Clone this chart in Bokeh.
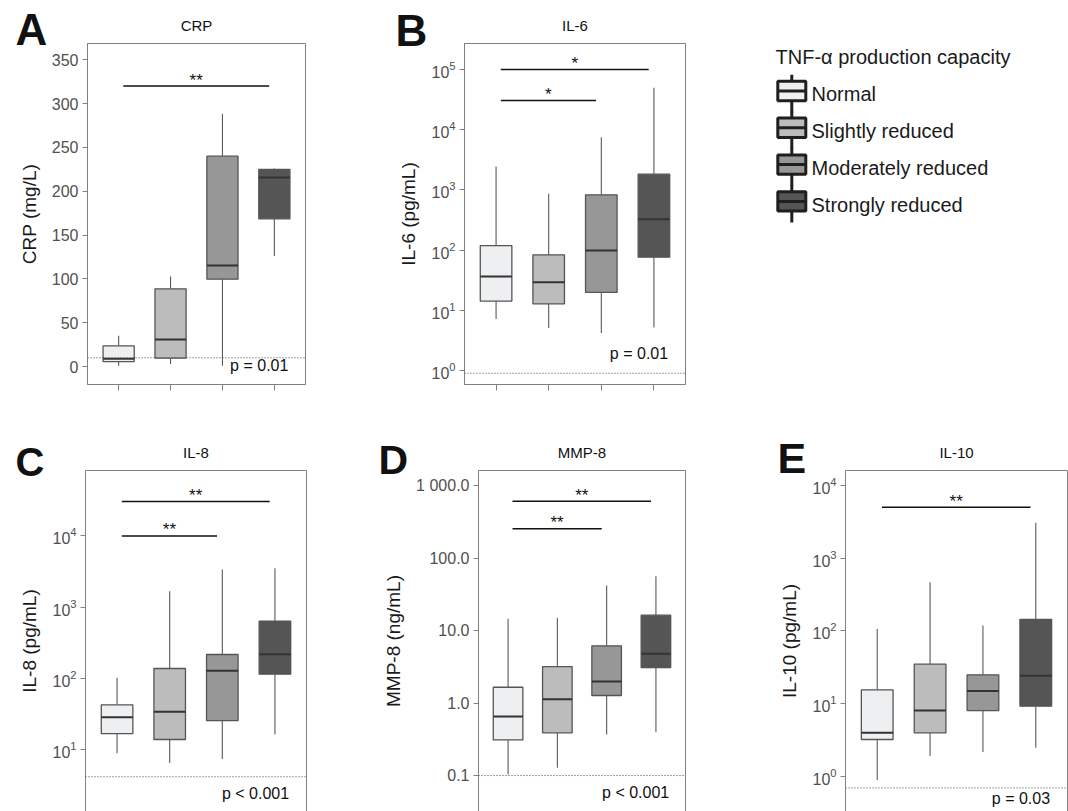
from bokeh.plotting import figure
from bokeh.models import (Range1d, FixedTicker, Label, Span, LogAxis, LinearAxis,
                          CustomJSTickFormatter, GridBox)
from bokeh.layouts import row, column
from bokeh.core.properties import value
from bokeh.embed import file_html
from bokeh.resources import INLINE

FONT = "Liberation Sans"

# ---------------- data ----------------
GROUPS = ["Normal", "Slightly reduced", "Moderately reduced", "Strongly reduced"]
FILLS = ["#eeeff0", "#bcbcbc", "#979797", "#545554"]
POS = [1, 2, 3, 4]
LEGEND_TITLE = "TNF-α production capacity"
PANEL_LETTERS = ["A", "B", "C", "D", "E"]
PANEL_TITLES = ["CRP", "IL-6", "IL-8", "MMP-8", "IL-10"]

# CRP (mg/L)
crp_lo = [1, 3, 1, 126]
crp_q1 = [5.7, 9.5, 99.7, 168.6]
crp_med = [8.8, 30.8, 115.3, 215.8]
crp_q3 = [23.6, 88.7, 240, 225]
crp_hi = [35, 102.7, 288.5, 226]
crp_lod = 10
crp_sig = [(1, 4, 320, "**")]
crp_p = "p = 0.01"
crp_ticks = [0, 50, 100, 150, 200, 250, 300, 350]

# IL-6 (pg/mL)
il6_lo = [7.2, 5.1, 4.2, 5.2]
il6_q1 = [14.2, 12.8, 19.8, 76.3]
il6_med = [36.4, 29.3, 98.5, 326]
il6_q3 = [119, 83.5, 829, 1824]
il6_hi = [2448, 861, 7510, 49700]
il6_lod = 0.9
il6_sig = [(1, 4, 1.0e5, "*"), (1, 3, 3.05e4, "*")]
il6_p = "p = 0.01"
il6_ticks = [1, 10, 100, 1000, 10000, 100000]

# IL-8 (pg/mL)
il8_lo = [8.8, 6.4, 7.3, 16.1]
il8_q1 = [16.6, 13.7, 25.3, 113.5]
il8_med = [28.2, 33.6, 126.7, 216.6]
il8_q3 = [42.1, 136.5, 215, 631]
il8_hi = [101, 1667, 3365, 3515]
il8_lod = 4.1
il8_sig = [(1, 4, 3.05e4, "**"), (1, 3, 1.0e4, "**")]
il8_p = "p < 0.001"
il8_ticks = [10, 100, 1000, 10000]

# MMP-8 (ng/mL)
mmp_lo = [0.103, 0.128, 0.368, 0.395]
mmp_q1 = [0.31, 0.388, 1.27, 3.09]
mmp_med = [0.65, 1.13, 1.98, 4.77]
mmp_q3 = [1.65, 3.18, 6.15, 16.3]
mmp_hi = [14.5, 15.0, 41.7, 56]
mmp_lod = 0.1
mmp_sig = [(1, 4, 608, "**"), (1, 3, 253, "**")]
mmp_p = "p < 0.001"
mmp_ticks = [0.1, 1, 10, 100, 1000]
mmp_tick_labels = ["0.1", "1.0", "10.0", "100.0", "1 000.0"]

# IL-10 (pg/mL)
il10_lo = [0.89, 1.9, 2.16, 2.46]
il10_q1 = [3.2, 3.95, 8.0, 9.2]
il10_med = [3.95, 8.0, 14.9, 24]
il10_q3 = [15.4, 34.7, 24.8, 144]
il10_hi = [106, 467, 118, 3060]
il10_lod = 0.69
il10_sig = [(1, 4, 5000, "**")]
il10_p = "p = 0.03"
il10_ticks = [1, 10, 100, 1000, 10000]

GRAY = "#808080"
INK = "#111111"
PAGE_W, PAGE_H = 1068, 811


def plain(W, H, transparent=False):
    f = figure(width=W, height=H, x_range=Range1d(0, W), y_range=Range1d(H, 0),
               x_axis_location=None, y_axis_location=None, output_backend="svg",
               toolbar_location=None, tools="", min_border=0, title=None)
    f.outline_line_color = None
    f.xgrid.visible = False
    f.ygrid.visible = False
    if transparent:
        f.background_fill_color = None
        f.border_fill_color = None
    return f


def panel(ylabel, lo, q1, med, q3, hi, lod, sig, ptext, ticks,
          log, yr, W, H, left, right, top, bottom, top_row, p_dy,
          tick_labels=None):
    p = figure(width=W, height=H, x_range=Range1d(0.4, 4.6), y_range=Range1d(*yr),
               y_axis_type="log" if log else "linear",
               x_axis_location="below" if top_row else None,
               output_backend="svg", toolbar_location=None, tools="", title=None,
               min_border_left=left, min_border_right=right,
               min_border_top=top, min_border_bottom=bottom)
    p.background_fill_color = "white"
    p.border_fill_color = "white"
    p.xgrid.visible = False
    p.ygrid.visible = False

    ya = p.yaxis[0]
    ya.ticker = FixedTicker(ticks=ticks)
    ya.axis_line_color = GRAY
    ya.major_tick_line_color = GRAY
    ya.major_tick_out = 5
    ya.major_tick_in = 0
    ya.minor_tick_line_color = None
    ya.major_label_text_font = FONT
    ya.major_label_text_font_size = "16px"
    ya.major_label_text_color = "#505050"
    ya.major_label_standoff = 4
    ya.axis_label = ylabel
    ya.axis_label_text_font = FONT
    ya.axis_label_text_font_size = "19px"
    ya.axis_label_text_font_style = "normal"
    ya.axis_label_text_color = "#1a1a1a"
    ya.axis_label_standoff = 9
    if tick_labels is not None:
        ya.formatter = CustomJSTickFormatter(
            args=dict(tk=ticks, lb=tick_labels),
            code="""
            for (let i = 0; i < tk.length; i++) {
              if (Math.abs(Math.log10(tk[i]) - Math.log10(tick)) < 1e-6) return lb[i]
            }
            return ''
            """)

    if top_row:
        xa = p.xaxis[0]
        xa.ticker = FixedTicker(ticks=POS)
        xa.major_label_text_color = None
        xa.major_tick_out = 6
        xa.major_tick_in = 0
        xa.major_tick_line_color = GRAY
        xa.minor_tick_line_color = None
        xa.axis_line_color = GRAY
        p.outline_line_color = GRAY
        p.outline_line_width = 1
    else:
        p.outline_line_color = None
        ax = LogAxis() if log else LinearAxis()
        p.add_layout(ax, "right")
        axt = LinearAxis()
        p.add_layout(axt, "above")
        for a in (ax, axt):
            a.ticker = FixedTicker(ticks=[])
            a.major_label_text_color = None
            a.major_tick_line_color = None
            a.minor_tick_line_color = None
            a.axis_line_color = GRAY
            a.major_label_standoff = 0

    # whiskers
    p.segment(x0=POS, y0=q3, x1=POS, y1=hi, line_color="#5a5a5a", line_width=1.1)
    p.segment(x0=POS, y0=lo, x1=POS, y1=q1, line_color="#5a5a5a", line_width=1.1)
    # boxes
    p.vbar(x=POS, width=0.6, bottom=q1, top=q3, fill_color=FILLS,
           line_color="#555555", line_width=1.3)
    # medians
    p.segment(x0=[x - 0.3 for x in POS], y0=med, x1=[x + 0.3 for x in POS], y1=med,
              line_color="#333333", line_width=2)

    # detection limit
    p.add_layout(Span(location=lod, dimension="width", line_color="#444444",
                      line_width=1, line_dash="1 2"))

    # significance bars
    sx0 = [a + 0.09 for a, b, y, s in sig]
    sx1 = [b - 0.1 for a, b, y, s in sig]
    sy = [y for a, b, y, s in sig]
    st = [s for a, b, y, s in sig]
    p.segment(x0=sx0, x1=sx1, y0=sy, y1=sy, line_color=INK, line_width=1.5)
    p.text(x=[(u + v) / 2 for u, v in zip(sx0, sx1)], y=sy, text=st,
           text_font=value(FONT), text_font_size="17px", text_color=INK,
           text_align="center", text_baseline="alphabetic", y_offset=-6)

    # p-value
    p.add_layout(Label(x=4.27, x_units="data", y=p_dy, y_units="screen",
                       text=ptext, text_font=FONT, text_font_size="16px",
                       text_color=INK, text_align="right",
                       text_baseline="middle"))
    return p


# ---------------- geometry ----------------
TOP_H, BOT_H = 420, PAGE_H - 420   # frames 43..384 and 470..811

# top row: A at x 0..360 (frame 87..305), B at 360..700 (frame 464..685)
pA = panel("CRP (mg/L)", crp_lo, crp_q1, crp_med, crp_q3, crp_hi, crp_lod,
           crp_sig, crp_p, crp_ticks, False, (-20.5, 368.6),
           360, TOP_H, 87, 55, 43, 36, True, 19)
pB = panel("IL-6 (pg/mL)", il6_lo, il6_q1, il6_med, il6_q3, il6_hi, il6_lod,
           il6_sig, il6_p, il6_ticks, True, (0.585, 270400),
           340, TOP_H, 104, 15, 43, 36, True, 31)
# bottom row: C 0..370 (frame 85..306), D 370..760 (frame 478..685), E 760..1068 (frame 845..1067)
pC = panel("IL-8 (pg/mL)", il8_lo, il8_q1, il8_med, il8_q3, il8_hi, il8_lod,
           il8_sig, il8_p, il8_ticks, True, (1.33, 83200),
           370, BOT_H, 85, 64, 50, 0, False, 18)
pD = panel("MMP-8 (ng/mL)", mmp_lo, mmp_q1, mmp_med, mmp_q3, mmp_hi, mmp_lod,
           mmp_sig, mmp_p, mmp_ticks, True, (0.0319, 1611),
           390, BOT_H, 108, 75, 50, 0, False, 19, tick_labels=mmp_tick_labels)
pE = panel("IL-10 (pg/mL)", il10_lo, il10_q1, il10_med, il10_q3, il10_hi, il10_lod,
           il10_sig, il10_p, il10_ticks, True, (0.327, 16030),
           308, BOT_H, 85, 1, 50, 0, False, 13)

# ---------------- legend panel ----------------
LW = PAGE_W - 700
lg = plain(LW, TOP_H)
ICON_X = 91.3
n = len(GROUPS)
ys = [93.7 + 36.8 * i for i in range(n)]
lg.segment(x0=[ICON_X] * n, x1=[ICON_X] * n, y0=[y - 19.5 for y in ys], y1=[y + 18 for y in ys],
           line_color="#1f1f1f", line_width=3)
lg.vbar(x=[ICON_X] * n, width=28, top=[y - 12.9 for y in ys], bottom=[y + 6.5 for y in ys],
        fill_color=FILLS, line_color="#1f1f1f", line_width=3)
lg.segment(x0=[ICON_X - 14] * n, x1=[ICON_X + 14] * n, y0=[y - 3.2 for y in ys],
           y1=[y - 3.2 for y in ys], line_color="#1f1f1f", line_width=3)
lg.text(x=[111] * n, y=ys, text=GROUPS, text_font=value(FONT), text_font_size="20px",
        text_color="#1a1a1a", text_align="left", text_baseline="middle")
lg.text(x=[75], y=[56.7], text=[LEGEND_TITLE], text_font=value(FONT), text_font_size="20px",
        text_color="#1a1a1a", text_align="left", text_baseline="middle")

# ---------------- overlay: panel letters and titles ----------------
ov = plain(PAGE_W, PAGE_H, transparent=True)
letter_x = [15, 395, 15, 378, 777]
letter_y = [29, 29.5, 461, 459, 457]
letter_size = ["44px", "44px", "40px", "41px", "43px"]
for L, x, y, s in zip(PANEL_LETTERS, letter_x, letter_y, letter_size):
    ov.text(x=[x], y=[y], text=[L], text_font=value(FONT), text_font_size=s,
            text_font_style="bold", text_color=INK, text_align="left",
            text_baseline="middle")
title_x = [87 + 218 / 2, 464 + 221 / 2, 85 + 221 / 2, 478 + 207 / 2, 845 + 222 / 2]
title_y = [25, 25, 451.7, 451.7, 451.7]
ov.text(x=title_x, y=title_y, text=PANEL_TITLES, text_font=value(FONT),
        text_font_size="15px", text_color=INK, text_align="center",
        text_baseline="middle")

main = column(
    row(column(pA), column(pB), column(lg)),
    row(column(pC), column(pD), column(pE)),
)
layout = GridBox(children=[(main, 0, 0), (ov, 0, 0)])

open("out.html", "w").write(file_html(layout, INLINE))
